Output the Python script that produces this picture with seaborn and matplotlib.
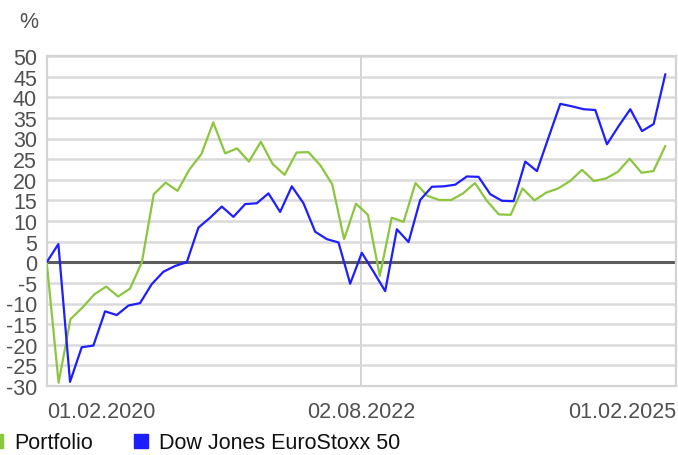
import numpy as np
import pandas as pd
import matplotlib
matplotlib.use("Agg")
import matplotlib.pyplot as plt
from matplotlib.lines import Line2D
import seaborn as sns

# series, values in %
SERIES_NAMES = ["Portfolio", "Dow Jones EuroStoxx 50"]
COLORS = ["#8cc63f", "#1e1eff"]

portfolio = [0, -29.2, -13.8, -11.0, -7.8, -5.9, -8.3, -6.4, 0, 16.5,
             19.3, 17.3, 22.5, 26.2, 33.9, 26.4, 27.6, 24.4, 29.2, 23.8,
             21.2, 26.6, 26.7, 23.5, 18.9, 5.6, 14.2, 11.5, -3.3, 10.8,
             9.8, 19.2, 16.1, 15.1, 15.1, 16.7, 19.2, 14.9, 11.6, 11.5,
             17.9, 15.0, 16.9, 17.9, 19.7, 22.4, 19.7, 20.3, 21.9, 25.1,
             21.7, 22.1, 28.2]

eurostoxx = [0, 4.4, -29.0, -20.6, -20.2, -11.9, -12.8, -10.5, -9.9, -5.3,
             -2.3, -0.9, 0, 8.4, 10.8, 13.5, 11.0, 14.1, 14.3, 16.7,
             12.2, 18.4, 14.3, 7.4, 5.6, 4.8, -5.2, 2.3, -2.3, -7.0,
             8.0, 4.9, 15.1, 18.3, 18.4, 18.8, 20.8, 20.7, 16.5, 14.9,
             14.8, 24.4, 22.1, 30.3, 38.4, 37.8, 37.1, 36.9, 28.6, 33.0,
             37.1, 31.8, 33.5, 45.6]

FIRST_DATE = "2020-02-01"
LAST_DATE = "2025-01-01"
AXIS_END = "2025-02-01"
X_TICKS = ["2020-02-01", "2022-08-02", "2025-02-01"]
X_TICK_LABELS = ["01.02.2020", "02.08.2022", "01.02.2025"]
Y_TICKS = list(range(-30, 55, 5))
Y_LABEL = "%"

# long table for seaborn, the two series have their own dates
frames = []
for name, vals in zip(SERIES_NAMES, [portfolio, eurostoxx]):
    dates = pd.date_range(FIRST_DATE, LAST_DATE, periods=len(vals))
    frames.append(pd.DataFrame({"date": dates, "value": vals, "series": name}))
df = pd.concat(frames, ignore_index=True)

sns.set_style("white")
plt.rcParams["font.family"] = ["Liberation Sans", "DejaVu Sans"]
plt.rcParams["axes.unicode_minus"] = False

W, H = 678, 456
fig = plt.figure(figsize=(W / 100, H / 100), dpi=100)
ax = fig.add_axes([46.7 / W, 1 - 387 / H, (676 - 46.7) / W, (387 - 57) / H])

ax.axhline(0, color="#5c5c5c", lw=2.2, zorder=1.5)
sns.lineplot(data=df, x="date", y="value", hue="series", hue_order=SERIES_NAMES,
             palette=COLORS, linewidth=1.6, legend=False, ax=ax, zorder=3)

ax.set_xlim(pd.Timestamp(FIRST_DATE), pd.Timestamp(AXIS_END))
ax.set_ylim(Y_TICKS[0], Y_TICKS[-1])
ax.set_yticks(Y_TICKS)
ax.set_yticklabels([str(t) for t in Y_TICKS])
ax.set_xticks([pd.Timestamp(d) for d in X_TICKS])
ax.set_xticklabels(X_TICK_LABELS)
for lab, ha in zip(ax.get_xticklabels(), ["left", "center", "right"]):
    lab.set_ha(ha)

ax.grid(True, axis="y", color="#dadada", lw=1.8, zorder=1)
ax.grid(True, axis="x", color="#d4d4d4", lw=1.4, zorder=1)
ax.set_axisbelow(True)
for s in ax.spines.values():
    s.set_color("#d4d4d4")
    s.set_linewidth(1.6)

ax.tick_params(axis="both", length=0, labelsize=15.5, labelcolor="#505050")
ax.tick_params(axis="y", pad=7)
ax.tick_params(axis="x", pad=11)
ax.set_xlabel("")
ax.set_ylabel("")

fig.text(29 / W, 1 - 23 / H, Y_LABEL, ha="center", va="center",
         fontsize=15.5, color="#505050")

handles = [Line2D([], [], marker="s", ls="", color=c, markersize=9.5) for c in COLORS]
fig.legend(handles, SERIES_NAMES, loc="center left",
           bbox_to_anchor=(-10.5 / W, 1 - 444 / H), bbox_transform=fig.transFigure,
           ncol=2, frameon=False, fontsize=15.5, borderpad=0, borderaxespad=0,
           handlelength=0.65, handletextpad=0.5, columnspacing=1.9,
           labelcolor="#111111")

fig.savefig("out.png", dpi=100)
